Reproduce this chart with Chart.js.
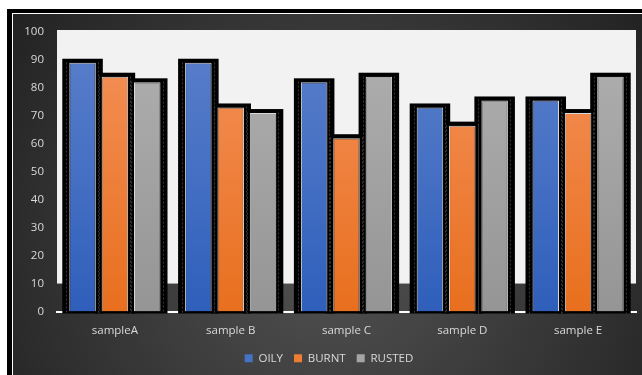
<!DOCTYPE html>
<html lang="en">
<head>
    <meta charset="UTF-8">
    <title>Samples</title>
    <script src="https://cdn.jsdelivr.net/npm/chart.js@4.4.1/dist/chart.umd.min.js"></script>
    <style>
        html, body { margin: 0; padding: 0; background: #fff; }
        .wrap { width: 642px; height: 375px; }
    </style>
</head>
<body>
    <div class="wrap"><canvas id="samplesChart" width="642" height="375"></canvas></div>

    <script>
        // chart data
        const categories = ['sampleA', 'sample B', 'sample C', 'sample D', 'sample E'];
        const oily = [89, 89, 82, 73, 75.5];
        const burnt = [84, 73, 62, 66.5, 71];
        const rusted = [82, 71, 84, 75.5, 84];
        const yTicks = [0, 10, 20, 30, 40, 50, 60, 70, 80, 90, 100];

        const textColor = '#d9d9d9';
        const legendColors = ['#4472c4', '#ed7d31', '#a5a5a5'];
        const labelFont = { family: "'Open Sans', sans-serif", size: 11.5 };

        // vertical gradient over the plot area, rebuilt when the area changes
        const gradCache = {};
        function barGradient(chart, top, bottom, key) {
            const area = chart.chartArea;
            if (!area) return bottom;
            const id = key + area.top + '_' + area.bottom;
            if (!gradCache[id]) {
                const g = chart.ctx.createLinearGradient(0, area.top, 0, area.bottom);
                g.addColorStop(0, top);
                g.addColorStop(1, bottom);
                gradCache[id] = g;
            }
            return gradCache[id];
        }

        // dark frame behind everything
        const framePlugin = {
            id: 'frame',
            beforeDraw(chart) {
                const ctx = chart.ctx;
                const w = chart.width, h = chart.height;
                ctx.save();
                ctx.fillStyle = '#ffffff';
                ctx.fillRect(0, 0, w, h);
                ctx.fillStyle = '#000000';
                ctx.fillRect(7, 9, w, h);
                ctx.fillStyle = '#ffffff';
                ctx.fillRect(12, 13, w, h);
                const g = ctx.createRadialGradient(330, 250, 20, 330, 250, 420);
                g.addColorStop(0, '#505050');
                g.addColorStop(1, '#1f1f1f');
                ctx.fillStyle = g;
                ctx.fillRect(13, 14, w, h);
                ctx.restore();
            }
        };

        // light plot fill and the black glow round each bar
        const plotPlugin = {
            id: 'plotFill',
            beforeDatasetsDraw(chart) {
                const ctx = chart.ctx;
                const area = chart.chartArea;
                const y = chart.scales.y;
                ctx.save();
                ctx.fillStyle = '#f2f2f2';
                const floor = y.getPixelForValue(10);
                ctx.fillRect(area.left, area.top - 2, area.right - area.left, floor - area.top + 2);

                chart.data.datasets.forEach((ds, i) => {
                    chart.getDatasetMeta(i).data.forEach(bar => {
                        const left = bar.x - bar.width / 2 - 7;
                        const top = bar.y - 4;
                        const bottom = bar.base + 2;
                        ctx.fillStyle = '#000000';
                        ctx.fillRect(left, top, bar.width + 14, bottom - top);
                    });
                });
                // faint dotted edge inside the glow
                ctx.strokeStyle = '#383838';
                ctx.lineWidth = 1;
                ctx.setLineDash([2, 2]);
                chart.data.datasets.forEach((ds, i) => {
                    chart.getDatasetMeta(i).data.forEach(bar => {
                        const l = Math.round(bar.x - bar.width / 2 - 3) + 0.5;
                        const r = Math.round(bar.x + bar.width / 2 + 2) + 0.5;
                        const t = Math.round(bar.y - 1) + 0.5;
                        ctx.beginPath();
                        ctx.moveTo(l, t);
                        ctx.lineTo(l, bar.base + 2);
                        ctx.moveTo(r, t);
                        ctx.lineTo(r, bar.base + 2);
                        ctx.stroke();
                    });
                });
                ctx.restore();
            }
        };

        const ctx = document.getElementById('samplesChart').getContext('2d');
        const samplesChart = new Chart(ctx, {
            type: 'bar',
            data: {
                labels: categories,
                datasets: [{
                    label: 'OILY',
                    data: oily,
                    backgroundColor: c => barGradient(c.chart, '#5b80cb', '#2f5fbb', 'o'),
                }, {
                    label: 'BURNT',
                    data: burnt,
                    backgroundColor: c => barGradient(c.chart, '#f4915a', '#e86f1e', 'b'),
                }, {
                    label: 'RUSTED',
                    data: rusted,
                    backgroundColor: c => barGradient(c.chart, '#b0b0b0', '#959595', 'r'),
                }]
            },
            options: {
                responsive: false,
                animation: false,
                layout: {
                    padding: { top: 32, right: 6, left: 22, bottom: 1 }
                },
                datasets: {
                    bar: {
                        borderColor: 'rgba(255,255,255,0.85)',
                        borderWidth: 1,
                        borderSkipped: 'bottom',
                        categoryPercentage: 0.838,
                        barPercentage: 0.82
                    }
                },
                plugins: {
                    tooltip: { enabled: false },
                    legend: {
                        position: 'bottom',
                        labels: {
                            color: textColor,
                            boxWidth: 8,
                            boxHeight: 8,
                            padding: 11,
                            font: labelFont,
                            generateLabels(chart) {
                                return Chart.defaults.plugins.legend.labels.generateLabels(chart).map((item, i) => {
                                    item.fillStyle = legendColors[i];
                                    item.strokeStyle = legendColors[i];
                                    item.lineWidth = 0;
                                    return item;
                                });
                            }
                        }
                    }
                },
                scales: {
                    x: {
                        z: 1,
                        grid: { display: false, drawTicks: false },
                        border: { display: true, color: '#ffffff', width: 2 },
                        ticks: { color: textColor, padding: 12, font: labelFont },
                        afterFit(scale) { scale.height = 30; }
                    },
                    y: {
                        min: 0,
                        max: 100,
                        grid: { display: false, drawTicks: false },
                        border: { display: false },
                        afterBuildTicks(scale) {
                            scale.ticks = yTicks.map(v => ({ value: v }));
                        },
                        ticks: { color: textColor, padding: 13, font: labelFont },
                        afterFit(scale) { scale.width = 35; }
                    }
                }
            },
            plugins: [framePlugin, plotPlugin]
        });
    </script>
</body>
</html>
